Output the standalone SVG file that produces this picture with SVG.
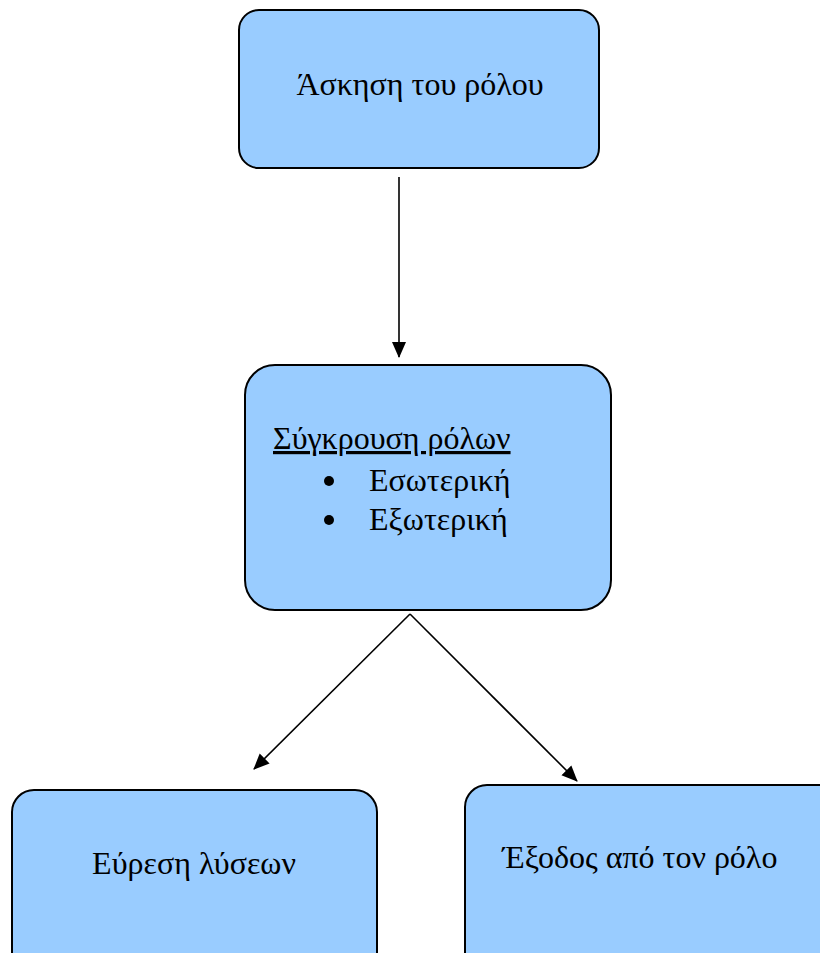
<svg xmlns="http://www.w3.org/2000/svg" width="820" height="953" viewBox="0 0 820 953">
<style>
.box{fill:#99CCFF;stroke:#000;stroke-width:2}
.t{font-family:"Liberation Serif","Times New Roman",serif;font-size:32px;fill:#000}
.c{stroke:#000;stroke-width:1.6;fill:none;marker-end:url(#ah)}
</style>
<defs>
<marker id="ah" markerWidth="16" markerHeight="16" refX="15" refY="8" orient="auto" markerUnits="userSpaceOnUse" viewBox="0 0 16 16">
<path d="M0,1 L16,8 L0,15 z" fill="#000"/>
</marker>
</defs>
<g id="connectors">
<line class="c" x1="399" y1="177" x2="399" y2="357"/>
<line class="c" x1="410" y1="614" x2="254" y2="769"/>
<line class="c" x1="410" y1="614" x2="577" y2="781"/>
</g>
<g id="node1">
<rect class="box" x="239" y="10" width="360" height="158" rx="20"/>
<text class="t" x="420" y="95" text-anchor="middle">Άσκηση του ρόλου</text>
</g>
<g id="node2">
<rect class="box" x="245" y="365" width="366" height="245" rx="30"/>
<text class="t" x="273" y="449" text-decoration="underline">Σύγκρουση ρόλων</text>
<circle cx="329" cy="481" r="5" fill="#000"/>
<text class="t" x="369" y="491">Εσωτερική</text>
<circle cx="329" cy="520" r="5" fill="#000"/>
<text class="t" x="369" y="530">Εξωτερική</text>
</g>
<g id="node3">
<rect class="box" x="12" y="790" width="365" height="190" rx="22"/>
<text class="t" x="194" y="874" text-anchor="middle">Εύρεση λύσεων</text>
</g>
<g id="node4">
<rect class="box" x="465" y="785" width="380" height="195" rx="22"/>
<text class="t" x="640" y="868" text-anchor="middle">Έξοδος από τον ρόλο</text>
</g>
</svg>
